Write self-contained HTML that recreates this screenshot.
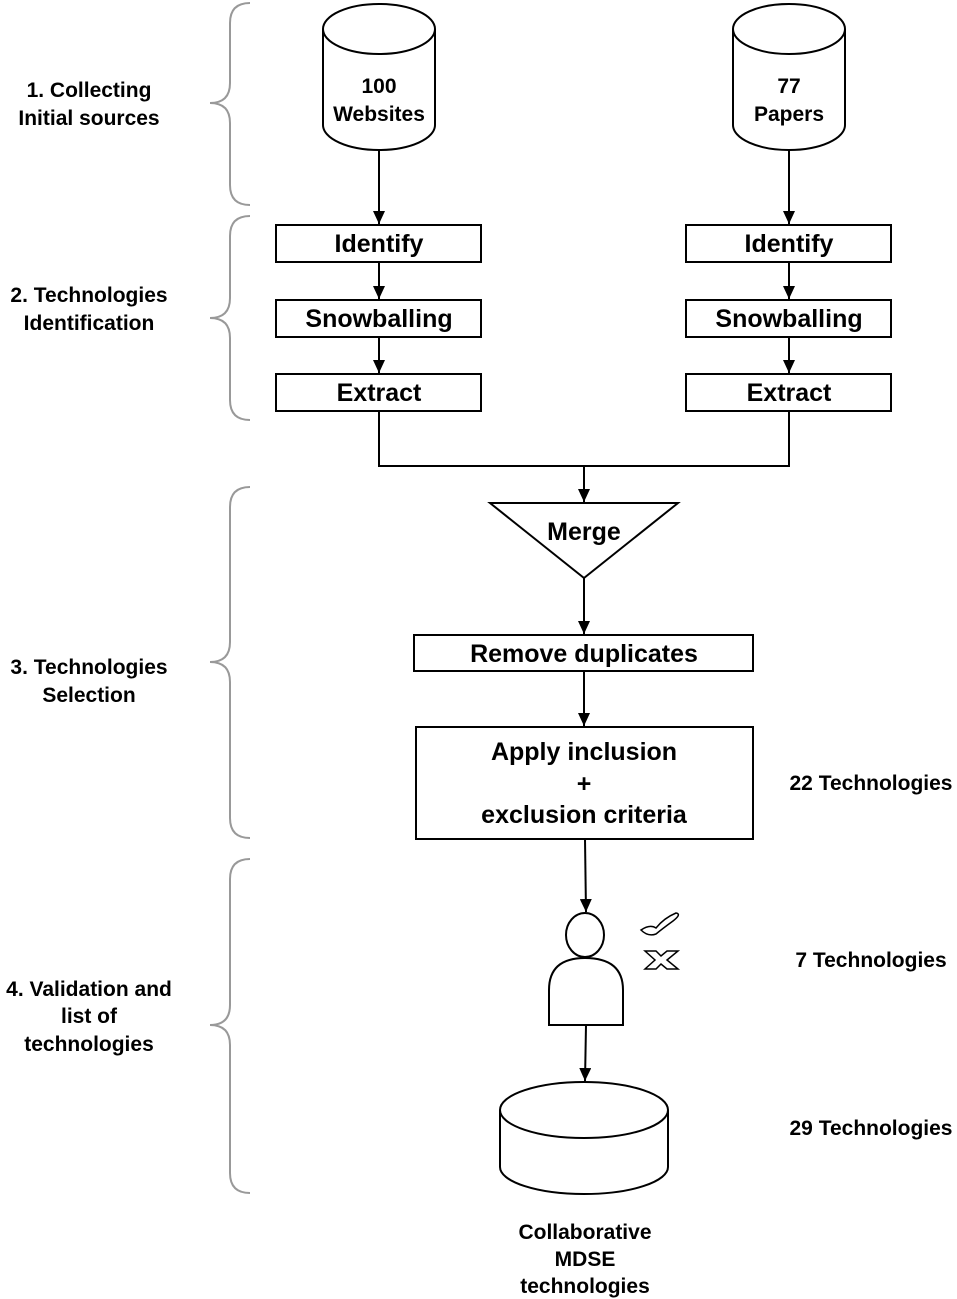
<!DOCTYPE html>
<html><head><meta charset="utf-8"><style>
html,body{margin:0;padding:0;background:#fff;}
svg{display:block;}
text{font-family:"Liberation Sans",sans-serif;font-weight:bold;fill:#000;}
</style></head><body>
<svg width="957" height="1299" viewBox="0 0 957 1299" xmlns="http://www.w3.org/2000/svg">
<defs><marker id="a" markerWidth="14" markerHeight="12" refX="13" refY="6" orient="auto" markerUnits="userSpaceOnUse"><path d="M0,0 L13,6 L0,12 Z" fill="#000"/></marker></defs>
<g fill="none" stroke="#999" stroke-width="2">
<path d="M250,3 Q230,3 230,23 L230,83 Q230,103 210,103 Q230,103 230,123 L230,185 Q230,205 250,205"/>
<path d="M250,216 Q230,216 230,236 L230,298 Q230,318 210,318 Q230,318 230,338 L230,400 Q230,420 250,420"/>
<path d="M250,487 Q230,487 230,507 L230,642 Q230,662 210,662 Q230,662 230,682 L230,818 Q230,838 250,838"/>
<path d="M250,859 Q230,859 230,879 L230,1005 Q230,1025 210,1025 Q230,1025 230,1045 L230,1173 Q230,1193 250,1193"/>
</g>
<g fill="#fff" stroke="#000" stroke-width="2">
<path d="M323,29 L323,125 A56,25 0 0 0 435,125 L435,29"/>
<ellipse cx="379" cy="29" rx="56" ry="25"/>
<path d="M733,29 L733,125 A56,25 0 0 0 845,125 L845,29"/>
<ellipse cx="789" cy="29" rx="56" ry="25"/>
<rect x="276" y="225" width="205" height="37"/>
<rect x="276" y="300" width="205" height="37"/>
<rect x="276" y="374" width="205" height="37"/>
<rect x="686" y="225" width="205" height="37"/>
<rect x="686" y="300" width="205" height="37"/>
<rect x="686" y="374" width="205" height="37"/>
<path d="M490,503 L678,503 L584,578 Z"/>
<rect x="414" y="635" width="339" height="36"/>
<rect x="416" y="727" width="337" height="112"/>
<ellipse cx="585" cy="935" rx="19" ry="22"/>
<path d="M549,1025 L549,990 Q549,958 585,958 Q623,958 623,990 L623,1025 Z"/>
<path d="M500,1110 L500,1167 A84,27 0 0 0 668,1167 L668,1110"/>
<ellipse cx="584" cy="1110" rx="84" ry="28"/>
</g>
<g stroke="#000" stroke-width="2" fill="none" marker-end="url(#a)">
<line x1="379" y1="150" x2="379" y2="224"/>
<line x1="789" y1="150" x2="789" y2="224"/>
<line x1="379" y1="262" x2="379" y2="299"/>
<line x1="379" y1="337" x2="379" y2="373"/>
<line x1="789" y1="262" x2="789" y2="299"/>
<line x1="789" y1="337" x2="789" y2="373"/>
<line x1="584" y1="466" x2="584" y2="502"/>
<line x1="584" y1="578" x2="584" y2="634"/>
<line x1="584" y1="671" x2="584" y2="726"/>
<line x1="585" y1="839" x2="586" y2="912"/>
<line x1="586" y1="1025" x2="585" y2="1081"/>
</g>
<path d="M379,411 L379,466 L789,466 L789,411" stroke="#000" stroke-width="2" fill="none"/>
<path d="M641,930 Q650,924 656,928 Q664,918 676,913 Q682,914 673,921 Q662,929 656,934 Q648,937 641,930 Z" fill="#fff" stroke="#000" stroke-width="1.5"/>
<path d="M645,951 L656,951 L661,956 L667,951 L678,951 L667,960 L678,969 L667,969 L661,964 L656,969 L645,969 L655,960 Z" fill="#fff" stroke="#000" stroke-width="1.5"/>
<g font-size="21" text-anchor="middle">
<text x="379" y="93">100</text><text x="379" y="121">Websites</text>
<text x="789" y="93">77</text><text x="789" y="121">Papers</text>
<text x="89" y="97">1. Collecting</text><text x="89" y="125">Initial sources</text>
<text x="89" y="302">2. Technologies</text><text x="89" y="330">Identification</text>
<text x="89" y="674">3. Technologies</text><text x="89" y="702">Selection</text>
<text x="89" y="996">4. Validation and</text><text x="89" y="1023">list of</text><text x="89" y="1051">technologies</text>
<text x="871" y="790">22 Technologies</text>
<text x="871" y="967">7 Technologies</text>
<text x="871" y="1135">29 Technologies</text>
<text x="585" y="1239">Collaborative</text><text x="585" y="1266">MDSE</text><text x="585" y="1293">technologies</text>
</g>
<g font-size="25" text-anchor="middle">
<text x="379" y="252">Identify</text><text x="379" y="327">Snowballing</text><text x="379" y="401">Extract</text>
<text x="789" y="252">Identify</text><text x="789" y="327">Snowballing</text><text x="789" y="401">Extract</text>
<text x="584" y="540">Merge</text>
<text x="584" y="662">Remove duplicates</text>
<text x="584" y="760">Apply inclusion</text><text x="584" y="792">+</text><text x="584" y="823">exclusion criteria</text>
</g>
</svg>
</body></html>
